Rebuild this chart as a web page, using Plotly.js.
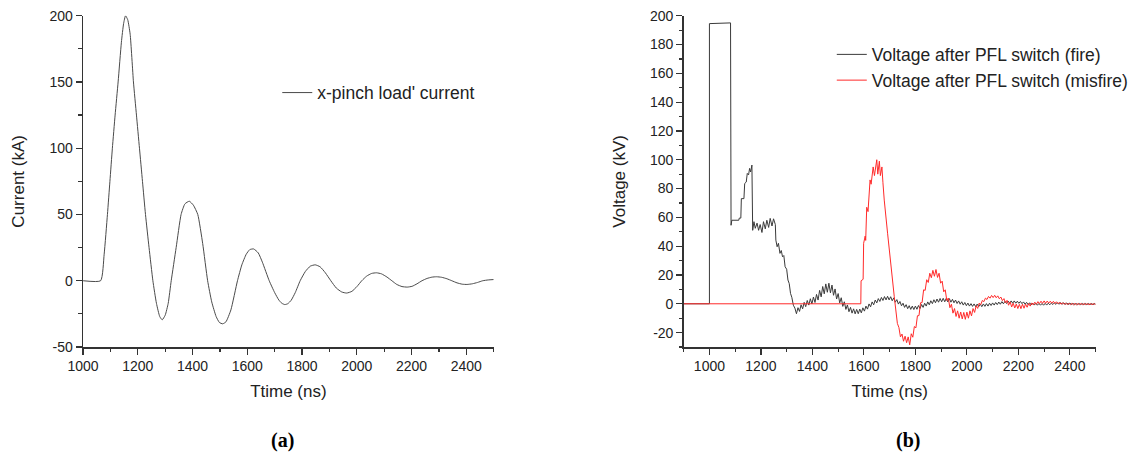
<!DOCTYPE html>
<html><head><meta charset="utf-8">
<script src="https://cdn.plot.ly/plotly-3.0.1.min.js"></script>
<style>html,body{margin:0;padding:0;background:#fff}#chart{width:1134px;height:452px}</style>
</head><body><div id="chart"></div>
<script>
// (a) x-pinch load current
const timeA = [1000,1064,1077,1089,1098,1107,1117,1128,1140,1148,
  1155,1163,1172,1184,1195,1206,1217,1228,1241,1255,
  1268,1280,1289,1300,1311,1322,1340,1358,1372,1388,
  1403,1419,1437,1455,1470,1486,1498,1510,1522,1540,
  1564,1580,1596,1609,1623,1640,1655,1680,1700,1715,
  1726,1737,1748,1760,1775,1793,1812,1830,1848,1866,
  1885,1905,1925,1945,1963,1982,2000,2018,2036,2054,
  2072,2090,2110,2128,2146,2165,2184,2202,2220,2238,
  2256,2274,2291,2310,2329,2347,2366,2385,2403,2422,
  2441,2460,2480,2500];
const currentA = [0,0,20,50,75,100,125,150,180,194,
  200,197,186,150,125,100,75,50,25,0,
  -17,-27,-29.5,-26,-17,0,25,50,58,60,
  57,50,28,0,-16,-27,-31.5,-32.5,-31,-22,
  0,12,20,23.5,24,21,14,0,-9,-14.5,
  -17,-18,-17.3,-14.8,-9,0,7,11,12,10.5,
  6,0,-5.5,-8.5,-9.3,-8,-4.5,0,3.5,5.5,
  6,5.2,2.8,0,-2.8,-4.4,-4.8,-4.2,-2.3,0,
  1.7,2.7,3,2.6,1.5,0,-1.6,-2.6,-2.8,-2.3,
  -1.3,0,0.6,0.9];

// (b) voltage after PFL switch (fire)
const timeFire = [900,1000,1000,1082,1084,1087,1114,1116,1122,1124,
  1134,1137,1143,1147,1152,1156,1160,1165,1168,1173,
  1178,1185,1191,1197,1204,1210,1217,1223,1230,1236,
  1243,1249,1256,1258,1263,1268,1274,1279,1284,1289,
  1294,1300,1305,1310,1315,1320,1326,1332,1338,
  1344,1350,1356,1362,1368,1374,1380,1386,1392,1398,
  1404,1410,1416,1422,1428,1434,1440,1446,1452,1458,
  1464,1470,1476,1482,1488,1494,1500,1506,1512,1518,
  1524,1530,1536,1542,1548,1554,1560,1566,1572,1578,
  1584,1590,1596,1602,1608,1614,1620,1626,1632,1638,
  1644,1650,1656,1662,1668,1674,1680,1686,1692,1698,
  1704,1710,1716,1722,1728,1734,1740,1746,1752,1758,
  1764,1770,1776,1782,1788,1794,1800,1806,1812,1818,
  1824,1830,1836,1842,1848,1854,1860,1866,1872,1878,
  1884,1890,1896,1902,1908,1914,1920,1926,1932,1938,
  1944,1950,1956,1962,1968,1974,1980,1986,1992,1998,
  2004,2010,2016,2022,2028,2034,2040,2046,2052,2058,
  2064,2070,2076,2082,2088,2094,2100,2106,2112,2118,
  2124,2130,2136,2142,2148,2154,2160,2166,2172,2178,
  2184,2190,2196,2202,2208,2214,2220,2226,2232,2238,
  2244,2250,2256,2262,2268,2274,2280,2286,2292,2298,
  2304,2310,2316,2322,2328,2334,2340,2346,2352,2358,
  2364,2370,2376,2382,2388,2394,2400,2406,2412,2418,
  2424,2430,2436,2442,2448,2454,2460,2466,2472,2478,
  2484,2490,2496,2500];
const voltFire = [0,0,194.5,195,54.5,58,58,59.5,59.5,73,
  73,83.5,84.5,90.5,89.5,94,91.5,96.3,51,57,
  52.4,56,51,55,49.5,57,52,58,53,59.3,
  54,59,55,44.2,39.6,42,35,37,32.6,33.5,
  25.7,24,16.5,14,7.2,4.5,-1,-3,-6.9,
  -2.7,-5.3,-0.7,-3.5,1.0,-2.0,2.3,-0.9,3.5,-0.1,
  4.7,0.9,6.5,2.6,9.3,4.8,12,6.9,13.8,8.0,
  14.3,7.6,13,5.9,10.3,3.3,7.1,0.6,4.2,-1.8,
  1.4,-3.9,-0.8,-5.5,-2.5,-6.5,-3.5,-7.0,-3.9,-6.9,
  -3.7,-6.3,-2.8,-5.1,-1.6,-3.7,-0.1,-2.1,1.3,-0.7,
  2.6,0.6,3.6,1.6,4.4,2.3,5.0,2.7,5.2,2.7,
  4.9,2.1,4.1,1.1,2.9,-0.2,1.6,-1.4,0.4,-2.5,
  -0.6,-3.4,-1.3,-3.9,-1.6,-4.0,-1.6,-3.8,-1.2,-3.3,
  -0.5,-2.5,0.4,-1.6,1.3,-0.7,2.1,0.1,2.8,0.7,
  3.3,1.1,3.7,1.4,3.8,1.4,3.8,1.3,3.6,1.1,
  3.1,0.7,2.6,0.2,2.0,-0.3,1.4,-0.9,0.9,-1.3,
  0.5,-1.6,0.1,-1.8,-0.1,-2.0,-0.2,-2.0,-0.2,-2.0,
  -0.1,-1.8,0.1,-1.6,0.4,-1.2,0.6,-0.9,0.9,-0.6,
  1.2,-0.3,1.5,0.0,1.7,0.2,1.9,0.4,2.0,0.4,
  2.0,0.4,1.8,0.3,1.6,0.1,1.3,-0.3,1.0,-0.6,
  0.7,-0.8,0.4,-0.9,0.3,-1.0,0.2,-1.0,0.2,-1.0,
  0.3,-0.9,0.4,-0.7,0.5,-0.5,0.6,-0.4,0.7,-0.3,
  0.7,-0.3,0.7,-0.4,0.6,-0.5,0.5,-0.5,0.3,-0.6,
  0.2,-0.6,0.2,-0.6,0.2,-0.6,0.2,-0.6,0.2,-0.6,
  0.2,-0.6,0.2,-0.3];

// (b) voltage after PFL switch (misfire)
const timeMisfire = [900,1588,1589,1597,1599,1605,1607,1611,1616,1624,
  1628,1636,1641,1650,1654,1660,1664,1670,1674,1679,
  1692,1705,1718,1730,
  1736,1742,1748,1754,1760,1766,1772,1778,1784,1790,
  1796,1802,1808,1814,1820,1826,1832,1838,1844,1850,
  1856,1862,1868,1874,1880,1886,1892,1898,1904,1910,
  1916,1922,1928,1934,1940,1946,1952,1958,1964,1970,
  1976,1982,1988,1994,2000,2006,2012,2018,2024,2030,
  2036,2042,2048,2054,2060,2066,2072,2078,2084,2090,
  2096,2102,2108,2114,2120,2126,2132,2138,2144,2150,
  2156,2162,2168,2174,2180,2186,2192,2198,2204,2210,
  2216,2222,2228,2234,2240,2246,2252,2258,2264,2270,
  2276,2282,2288,2294,2300,2306,2312,2318,2324,2330,
  2336,2342,2348,2354,2360,2366,2372,2378,2384,2390,
  2396,2402,2408,2414,2420,2426,2432,2438,2444,2450,
  2456,2462,2468,2474,2480,2486,2492,2498,2500];
const voltMisfire = [0,0,16,17,42,47,44,67,64,86,
  83,95,89,100,90,99,89,95,84,72,
  49,25.7,4.9,-13.6,
  -16.5,-23,-21,-26,-22.5,-27,-23,-28.5,-20.8,-23.2,
  -15.8,-16.7,-8.3,-8.2,0.7,0.8,9.7,9.3,16.7,14.8,
  21.2,18.1,23.2,19.1,23.8,18.3,21.2,14.3,15.7,8.3,
  9.7,2.3,4.0,-2.7,-0.3,-6.5,-3.3,-8.8,-4.9,-10.0,
  -5.7,-10.5,-6.0,-10.8,-5.8,-10.0,-4.9,-8.4,-3.3,-6.0,
  -1.4,-3.2,0.5,-0.6,2.3,1.5,3.9,3.0,5.1,3.9,
  5.8,4.3,5.9,4.2,5.5,3.5,4.7,2.2,3.6,0.6,
  2.4,-1.0,1.3,-2.2,0.4,-2.9,-0.2,-3.3,-0.4,-3.4,
  -0.3,-3.1,-0.2,-2.4,0.2,-1.6,0.6,-0.8,1.1,-0.3,
  1.5,0.1,1.8,0.3,2.0,0.4,1.9,0.5,1.8,0.4,
  1.7,0.2,1.4,0.0,1.1,-0.3,0.7,-0.4,0.5,-0.6,
  0.4,-0.7,0.3,-0.7,0.3,-0.7,0.2,-0.6,0.2,-0.6,
  0.2,-0.6,0.1,-0.6,0.1,-0.6,0.1,-0.5,-0.2];

// tick labels
const xTickValsA = [1000,1200,1400,1600,1800,2000,2200,2400];
const xTickTextA = ['1000','1200','1400','1600','1800','2000','2200','2400'];
const yTickValsA = [-50,0,50,100,150,200];
const yTickTextA = ['-50','0','50','100','150','200'];
const xTickValsB = [1000,1200,1400,1600,1800,2000,2200,2400];
const xTickTextB = ['1000','1200','1400','1600','1800','2000','2200','2400'];
const yTickValsB = [-20,0,20,40,60,80,100,120,140,160,180,200];
const yTickTextB = ['-20','0','20','40','60','80','100','120','140','160','180','200'];

const F = '"Liberation Sans", Arial, sans-serif';
const W = 1134, H = 452;
const plotTop = 1 - 15.7/H, plotBottom = 1 - 347/H;

function axis(extra){
  return Object.assign({
    showline:true, linecolor:'#333', linewidth:1.5, mirror:false,
    ticks:'outside', ticklen:6, tickwidth:1.2, tickcolor:'#333',
    showgrid:false, zeroline:false, tickmode:'array',
    tickfont:{family:F, size:14, color:'#222'},
    fixedrange:true
  }, extra);
}
function minor(dt){
  return {tickmode:'linear', dtick:dt, ticks:'outside', ticklen:3.5, tickwidth:1.2, tickcolor:'#333', showgrid:false};
}

const data = [
  {x: timeA, y: currentA, type:'scatter', mode:'lines', name:"x-pinch load' current",
   line:{color:'#4a4a4a', width:1, shape:'spline', smoothing:0.5}, xaxis:'x', yaxis:'y', legend:'legend'},
  {x: timeFire, y: voltFire, type:'scatter', mode:'lines', name:'Voltage after PFL switch (fire)',
   line:{color:'#3a3a3a', width:1}, xaxis:'x2', yaxis:'y2', legend:'legend2'},
  {x: timeMisfire, y: voltMisfire, type:'scatter', mode:'lines', name:'Voltage after PFL switch (misfire)',
   line:{color:'#ff2a2a', width:1}, xaxis:'x2', yaxis:'y2', legend:'legend2'}
];

const layout = {
  width:W, height:H, margin:{l:0,r:0,t:0,b:0},
  paper_bgcolor:'#fff', plot_bgcolor:'#fff',
  font:{family:F, color:'#222'},
  showlegend:true,
  xaxis: axis({domain:[83.3/W, 495/W], range:[1000,2500], anchor:'y',
    tickvals:xTickValsA, ticktext:xTickTextA, minor:Object.assign(minor(100),{tick0:1000}),
    title:{text:'Ttime (ns)', font:{family:F, size:17, color:'#222'}, standoff:12}}),
  yaxis: axis({domain:[plotBottom, plotTop], range:[-50,200], anchor:'x',
    tickvals:yTickValsA, ticktext:yTickTextA, minor:Object.assign(minor(25),{tick0:0}),
    title:{text:'Current (kA)', font:{family:F, size:17, color:'#222'}, standoff:20}}),
  xaxis2: axis({domain:[685.5/W, 1098.5/W], range:[900,2500], anchor:'y2',
    tickvals:xTickValsB, ticktext:xTickTextB, minor:Object.assign(minor(100),{tick0:900}),
    title:{text:'Ttime (ns)', font:{family:F, size:17, color:'#222'}, standoff:12}}),
  yaxis2: axis({domain:[plotBottom, plotTop], range:[-30,200], anchor:'x2',
    tickvals:yTickValsB, ticktext:yTickTextB, minor:Object.assign(minor(10),{tick0:0}),
    title:{text:'Voltage (kV)', font:{family:F, size:17, color:'#222'}, standoff:20}}),
  legend:{x:278/W, xanchor:'left', y:1-92.7/H, yanchor:'middle', bgcolor:'rgba(0,0,0,0)',
    borderwidth:0, font:{family:F, size:17.5, color:'#222'}},
  legend2:{x:834/W, xanchor:'left', y:1-67.5/H, yanchor:'middle', bgcolor:'rgba(0,0,0,0)',
    borderwidth:0, font:{family:F, size:17.5, color:'#222'}},
  annotations:[
    {text:'<b>(a)</b>', xref:'paper', yref:'paper', x:283/W, y:1-440/H, xanchor:'center', yanchor:'middle',
     showarrow:false, font:{family:'"Liberation Serif", "Times New Roman", serif', size:20, color:'#000'}},
    {text:'<b>(b)</b>', xref:'paper', yref:'paper', x:910/W, y:1-440/H, xanchor:'center', yanchor:'middle',
     showarrow:false, font:{family:'"Liberation Serif", "Times New Roman", serif', size:20, color:'#000'}}
  ]
};

Plotly.newPlot('chart', data, layout, {displayModeBar:false, staticPlot:true});
</script>
</body></html>
